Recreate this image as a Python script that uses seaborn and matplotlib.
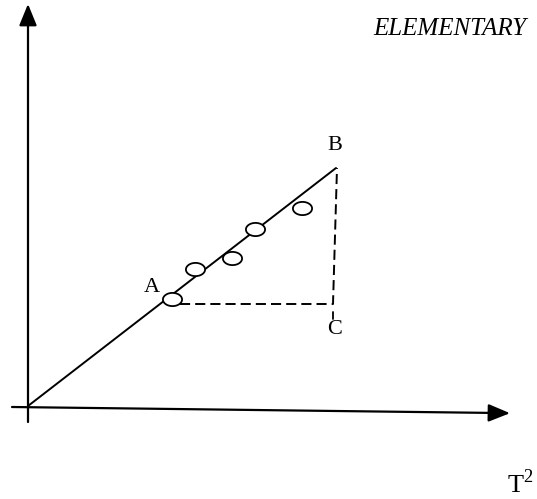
import numpy as np
import pandas as pd
import matplotlib
matplotlib.use("Agg")
import matplotlib.pyplot as plt
from matplotlib.path import Path
import seaborn as sns

# Measured points (T^2 on x, length on y), arbitrary units from the origin
point_x = [144, 167, 204, 227, 274]
point_y = [107, 137, 148, 177, 198]

# Best-fit line through the origin up to point B
fit_x = [0, 308]
fit_y = [0, 238]

# Slope triangle A -> C -> B
tri_x = [152, 305, 309]
tri_y = [102, 102, 238]

labels = ["A", "B", "C"]
label_x = [124, 307, 307]
label_y = [119, 261, 77]

sns.set_theme(style="white")
plt.rcParams["font.family"] = ["Liberation Serif", "DejaVu Serif"]
plt.rcParams["mathtext.fontset"] = "custom"
plt.rcParams["mathtext.rm"] = "Liberation Serif"

fig = plt.figure(figsize=(5.37, 4.99), dpi=100)
ax = fig.add_axes([0, 0, 1, 1])
ax.set_xlim(-28, 509)
ax.set_ylim(-93, 406)
ax.axis("off")

arrow = dict(arrowstyle="-|>,head_length=1.1,head_width=0.45",
             color="black", lw=1.6, shrinkA=0, shrinkB=0)

# Vertical axis
ax.plot([0, 0], [-16, 388], color="black", lw=1.6)
ax.annotate("", xy=(0, 402), xytext=(0, 380), arrowprops=arrow)

# Horizontal axis (slightly tilted)
ax.plot([-16, 470], [-1, -7], color="black", lw=1.6)
ax.annotate("", xy=(482, -7.2), xytext=(460, -6.9), arrowprops=arrow)

# Fit line
sns.lineplot(x=fit_x, y=fit_y, ax=ax, color="black", lw=1.4)

# Dashed slope triangle
ax.plot(tri_x, tri_y, color="black", lw=1.4, ls=(0, (5.2, 2.6)))
ax.plot([305, 305], [94, 87], color="black", lw=1.3)

# Data points as open ellipses
t = np.linspace(0, 2 * np.pi, 60)
ellipse = Path(np.column_stack([1.45 * np.cos(t), np.sin(t)]), closed=True)
df = pd.DataFrame({"x": point_x, "y": point_y})
sns.scatterplot(data=df, x="x", y="y", ax=ax, marker=ellipse, s=190,
                facecolor="white", edgecolor="black", linewidth=1.3, zorder=5)

for lab, lx, ly in zip(labels, label_x, label_y):
    ax.text(lx, ly, lab, fontsize=16, ha="center", va="center", color="black")

ax.text(345, 377, "ELEMENTARY", fontsize=18, style="italic",
        ha="left", va="center", color="black")
ax.text(479, -78, r"$\mathrm{T}^{\mathrm{2}}$", fontsize=19,
        ha="left", va="center", color="black")

fig.savefig("out.png", dpi=100)
